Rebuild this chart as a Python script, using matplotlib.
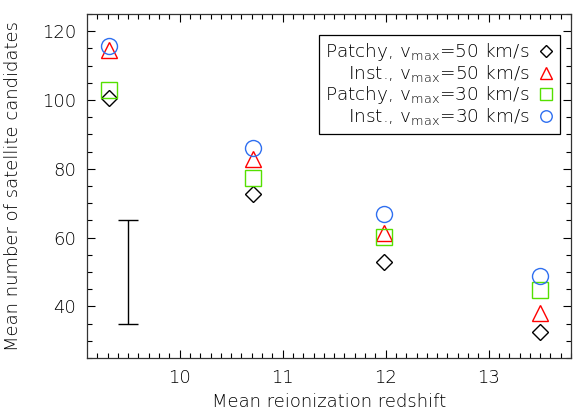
#!/usr/bin/env python3

import numpy as np
import matplotlib
matplotlib.use('Agg')
import matplotlib.pyplot as plt

# Mean reionization redshift for the four runs
z_mean = [9.31, 10.71, 11.98, 13.50]

# Mean number of satellite candidates per model
patchy_50 = [100.5, 72.8, 52.9, 32.6]
inst_50 = [114.5, 82.8, 61.2, 38.0]
patchy_30 = [102.9, 77.2, 60.1, 44.7]
inst_30 = [115.7, 86.0, 67.0, 48.9]

labels = ['Patchy, v$_{\\rm max}$=50 km/s',
          'Inst., v$_{\\rm max}$=50 km/s',
          'Patchy, v$_{\\rm max}$=30 km/s',
          'Inst., v$_{\\rm max}$=30 km/s']

# typical scatter shown as a single error bar
err_x = 9.5
err_mid = 50
err_half = 15

plt.rcParams['font.family'] = 'DejaVu Sans'
plt.rcParams['font.weight'] = 'light'
plt.rcParams['axes.labelweight'] = 'light'
plt.rcParams['mathtext.fontset'] = 'custom'
plt.rcParams['mathtext.rm'] = 'DejaVu Sans:light'
plt.rcParams['mathtext.it'] = 'DejaVu Sans:light'
plt.rcParams['font.size'] = 13
plt.rcParams['text.color'] = 'black'


def plot_data():
    fig = plt.figure(figsize=(5.73, 4.16), dpi=100)
    ax = fig.add_axes([87 / 573, 58 / 416, 484 / 573, 344 / 416])

    ax.plot(z_mean, patchy_50, linestyle='none', marker='D', ms=8.5,
            mfc='none', mec='black', mew=1.0, label=labels[0])
    ax.plot(z_mean, inst_50, linestyle='none', marker='^', ms=12,
            mfc='none', mec='#ff0000', mew=1.0, label=labels[1])
    ax.plot(z_mean, patchy_30, linestyle='none', marker='s', ms=11.5,
            mfc='none', mec='#55e000', mew=1.0, label=labels[2])
    ax.plot(z_mean, inst_30, linestyle='none', marker='o', ms=11.5,
            mfc='none', mec='#2f6ff0', mew=1.0, label=labels[3])

    ax.errorbar([err_x], [err_mid], yerr=[err_half], color='black',
                capsize=7.5, elinewidth=1.0, capthick=1.0, fmt='none')

    ax.set_xlim(9.1, 13.8)
    ax.set_ylim(25, 125)
    ax.set_xticks([10, 11, 12, 13])
    ax.set_xticks(np.arange(9.2, 13.8, 0.1), minor=True)
    ax.set_yticks([40, 60, 80, 100, 120])
    ax.set_yticks(np.arange(25, 126, 5), minor=True)
    ax.tick_params(which='both', direction='in', top=True, right=True,
                   width=0.8, pad=8)
    ax.tick_params(which='major', length=6)
    ax.tick_params(which='minor', length=3.5)
    for s in ax.spines.values():
        s.set_linewidth(0.9)
        s.set_color('#333333')

    ax.set_xlabel('Mean reionization redshift', labelpad=4)
    ax.set_ylabel('Mean number of satellite candidates', labelpad=14)

    leg = ax.legend(loc='upper right', bbox_to_anchor=(0.977, 0.939),
                    borderaxespad=0, markerfirst=False, fancybox=False,
                    edgecolor='black', framealpha=1, labelspacing=0.0,
                    handlelength=0.8, handletextpad=0.5, borderpad=0.35,
                    numpoints=1, markerscale=0.72, fontsize=13.3)
    leg.get_frame().set_linewidth(0.9)

    fig.savefig('out.png', dpi=100)


def main():
    plot_data()


if __name__ == "__main__":
    main()
